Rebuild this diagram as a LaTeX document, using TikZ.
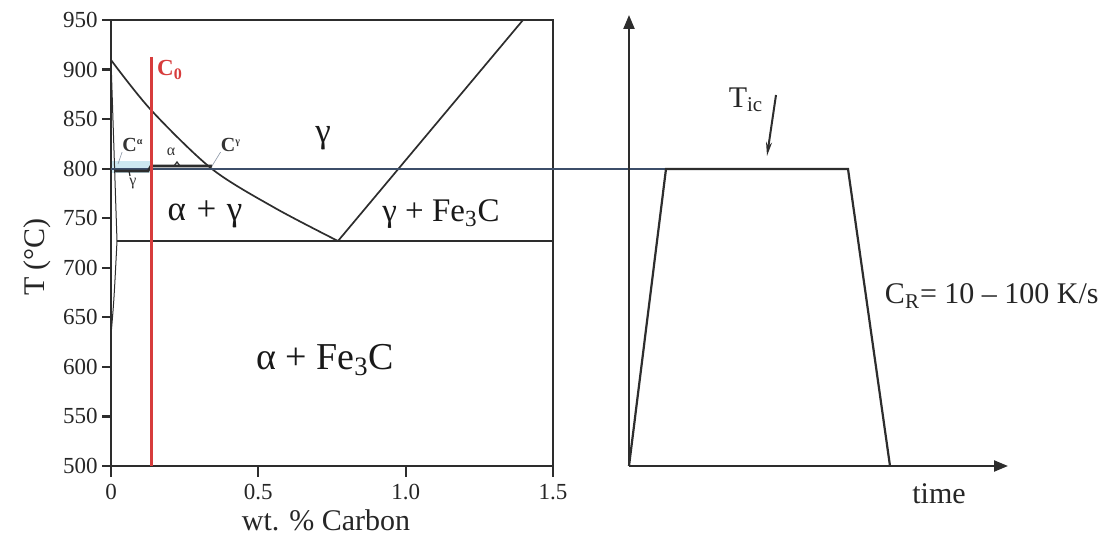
\documentclass[tikz,border=0pt]{standalone}
\usepackage{fontspec}
\setmainfont{Liberation Serif}
\usetikzlibrary{arrows.meta}
\definecolor{linegray}{RGB}{45,45,45}
\definecolor{redline}{RGB}{215,60,60}
\definecolor{slateline}{RGB}{60,78,105}
\definecolor{paleblue}{RGB}{205,232,240}
\begin{document}
\begin{tikzpicture}[x=0.5pt,y=-0.5pt,
  axis/.style={line width=1.1pt, draw=linegray},
  phase/.style={line width=0.85pt, draw=linegray},
  ticklab/.style={font=\fontsize{11.5}{12}\selectfont, inner sep=0pt, text=black!85},
  biglab/.style={font=\fontsize{15}{16}\selectfont, inner sep=0pt, text=black!85},
  phaselab/.style={font=\fontsize{16.5}{18}\selectfont, inner sep=0pt, text=black!90},
  smalllab/.style={font=\bfseries\fontsize{10}{11}\selectfont, inner sep=0pt, text=black!80},
  tinylab/.style={font=\fontsize{8}{9}\selectfont, inner sep=0pt, text=black!80},
  leader/.style={line width=0.3pt, draw=slateline!60},
  axarrow/.style={-{Triangle[length=7pt,width=5.5pt]}}]
\useasboundingbox (0,0) rectangle (1104,534);
% ---------------- left: phase diagram ----------------
\coordinate (BL) at (111,466);
\coordinate (TR) at (553,20);
\fill[paleblue] (112,161) rectangle (150,173);
\draw[axis] (BL) rectangle (TR);
% y ticks
\foreach \v [count=\i from 0] in {500,550,600,650,700,750,800,850,900,950}{
  \draw[axis] (102,466-\i*49.556) -- (111,466-\i*49.556);
  \node[ticklab, anchor=east] (ytick\v) at (98,466-\i*49.556) {\v};
}
% x ticks
\foreach \v/\lab [count=\i from 0] in {0/0,0.5/0.5,1.0/1.0,1.5/1.5}{
  \draw[axis] (111+\i*147.33,466) -- (111+\i*147.33,477);
  \node[ticklab, anchor=north] (xtick\i) at (111+\i*147.33,484) {\lab};
}
\node[biglab, rotate=90] (ylab) at (37,257) {T (°C)};
\node[biglab] (xlab) at (326,520) {wt. \% Carbon};
% phase boundaries
\coordinate (A3top) at (111,60);
\coordinate (eut) at (338,241);
\coordinate (acmtop) at (523,20);
\coordinate (alphaeut) at (117,241);
\coordinate (eutright) at (553,241);
\draw[phase] plot[smooth] coordinates {(111,60) (151,110) (212,169) (275,208) (338,241)};
\draw[phase] (eut) -- (acmtop);
\draw[phase] (alphaeut) -- (eutright);
\draw[phase, line width=0.5pt] (111,60) .. controls (114,150) .. (alphaeut) .. controls (114,300) .. (111,335);
% 800 C line
\coordinate (l800a) at (111,169);
\coordinate (l800b) at (666,169);
\draw[line width=0.85pt, slateline] (l800a) -- (l800b);
% concentration profile
\draw[line width=1.3pt, linegray] (114,171) -- (148,171) -- (151,166) -- (212,166);
\draw[line width=0.6pt, linegray] (174,166) -- (177,162) -- (180,166);
\draw[line width=0.6pt, linegray] (129,171) -- (130,176);
% C0 red line
\coordinate (c0top) at (151,57);
\coordinate (c0bot) at (151,466);
\draw[line width=1.5pt, redline] (c0top) -- (c0bot);
\node[font=\bfseries\fontsize{11.5}{12}\selectfont, text=redline, inner sep=0pt] (C0) at (170,70) {C\textsubscript{0}};
% small labels
\node[smalllab] (Calpha) at (133,145) {C\textsuperscript{\fontsize{5}{5}\selectfont α}};
\node[tinylab] (alpha) at (171,152) {α};
\node[smalllab] (Cgamma) at (231,145) {C\textsuperscript{\fontsize{5}{5}\selectfont γ}};
\node[tinylab] (gammasm) at (133,184) {γ};
\coordinate (la) at (118,164);
\coordinate (lg) at (212,166);
\draw[leader] (Calpha.south west) -- (la);
\draw[leader] (Cgamma.south west) -- (lg);
% phase labels
\node[phaselab, font=\fontsize{17.5}{18}\selectfont] (gam) at (323,138) {γ};
\node[phaselab, font=\fontsize{17.5}{18}\selectfont] (ag) at (205,214) {α\hspace{0.3em}+\hspace{0.3em}γ};
\node[phaselab] (gfe) at (441,214) {γ + Fe\textsubscript{3}C};
\node[font=\fontsize{19}{20}\selectfont, inner sep=0pt, text=black!90] (afe) at (325,360) {α + Fe\textsubscript{3}C};
% ---------------- right: heat treatment ----------------
\coordinate (O) at (629,466);
\coordinate (Ytip) at (629,15);
\coordinate (Xtip) at (1008,466);
\coordinate (p1) at (666,169);
\coordinate (p2) at (848,169);
\coordinate (p3) at (890,466);
\draw[axis, axarrow] (O) -- (Ytip);
\draw[axis, axarrow] (O) -- (Xtip);
\draw[line width=1.1pt, linegray] (O) -- (p1) -- (p2) -- (p3);
\node[biglab] (Tic) at (746,100) {T\textsubscript{ic}};
\coordinate (ticA) at (776,95);
\coordinate (ticB) at (767,156);
\draw[line width=1pt, linegray, -{Stealth[length=7pt,width=3pt]}] (ticA) -- (ticB);
\node[biglab, anchor=east] (CR) at (1099,296) {C\textsubscript{R}= 10 – 100 K/s};
\node[biglab] (time) at (939,494) {time};
\end{tikzpicture}
\end{document}
